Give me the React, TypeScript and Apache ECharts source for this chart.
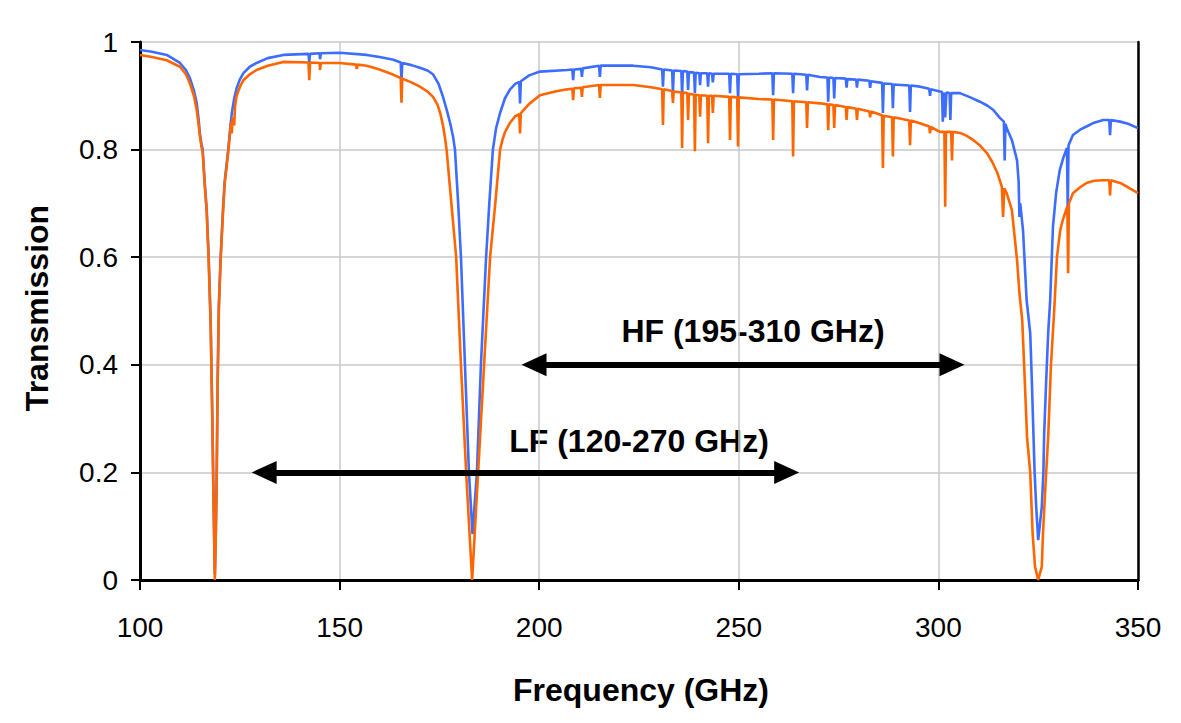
import React, { useEffect, useRef } from "react";
import * as echarts from "echarts";

// Frequency (GHz), transmission — dry/upper curve (blue)
const blueCurve: [number, number][] = [
  [100, 0.985], [103, 0.982], [106.7, 0.976], [110, 0.961], [111.5, 0.948], [112.5, 0.933], [113.5, 0.91],
  [114.2, 0.887], [114.7, 0.855], [115, 0.83], [115.4, 0.81],
  [115.7, 0.8], [116.2, 0.74], [116.7, 0.69], [117.2, 0.6], [117.7, 0.48], [118.1, 0.31], [118.35, 0.186],
  [118.55, 0.093], [118.75, 0.01], [119, 0.093], [119.2, 0.186], [119.45, 0.37], [119.75, 0.51], [120.2, 0.6],
  [120.8, 0.69], [121.2, 0.74], [122.1, 0.8], [122.6, 0.84], [123, 0.868], [123.6, 0.895], [124.2, 0.914],
  [125, 0.93], [125.9, 0.942], [127.5, 0.954], [129.2, 0.961], [132, 0.97],
  [135.9, 0.976], [142.2, 0.978], [142.4, 0.963], [142.6, 0.978], [145, 0.979], [145.1, 0.968], [145.3, 0.979],
  [150, 0.98], [156.8, 0.976], [160, 0.972], [163.5, 0.967], [165.3, 0.962], [165.5, 0.929], [165.7, 0.961],
  [168, 0.957], [170.1, 0.952], [172, 0.947], [173.4, 0.94], [174.8, 0.922], [175.9, 0.898], [176.9, 0.872],
  [177.7, 0.849], [178.4, 0.825], [178.9, 0.8], [179.7, 0.7], [180.4, 0.6], [181.4, 0.4], [182.4, 0.2],
  [183.3, 0.085], [184.4, 0.2], [185.4, 0.4], [186.7, 0.6], [187.5, 0.7], [188.4, 0.8], [189.2, 0.84],
  [190.2, 0.868], [191.4, 0.895], [192.7, 0.912], [194, 0.922],
  [195, 0.926], [195.2, 0.886], [195.4, 0.927], [197.5, 0.938], [200.2, 0.945], [207, 0.948], [208.3, 0.949],
  [208.5, 0.929], [208.7, 0.949], [210.5, 0.95], [210.7, 0.935], [210.9, 0.951], [215, 0.956], [215.2, 0.935],
  [215.4, 0.956], [223.5, 0.956], [228, 0.953], [230.8, 0.949], [231, 0.917], [231.2, 0.949], [233.3, 0.947],
  [233.5, 0.905], [233.7, 0.947], [235.6, 0.946], [235.8, 0.901], [236, 0.946], [237.1, 0.945], [237.3, 0.911],
  [237.5, 0.944], [238.8, 0.943], [239, 0.905], [239.2, 0.943], [240.1, 0.942], [240.3, 0.92], [240.5, 0.942],
  [242.1, 0.942], [242.3, 0.917], [242.5, 0.942], [243.3, 0.941], [243.5, 0.925], [243.7, 0.941], [247.6, 0.941],
  [247.8, 0.905], [248, 0.941], [249.6, 0.94], [249.8, 0.898], [250, 0.94], [255, 0.941], [258.4, 0.942],
  [258.6, 0.901], [258.8, 0.942], [263.4, 0.941], [263.6, 0.905], [263.8, 0.941], [266.9, 0.939], [267.1, 0.91],
  [267.3, 0.939], [270.3, 0.935], [272.2, 0.934], [272.4, 0.889], [272.6, 0.934], [273.7, 0.933], [273.9, 0.895],
  [274.1, 0.933], [276.8, 0.932], [277, 0.915], [277.2, 0.931], [279.4, 0.93], [279.6, 0.915], [279.8, 0.93],
  [282.7, 0.928], [282.9, 0.915], [283.1, 0.927], [285.9, 0.924], [286.1, 0.868], [286.3, 0.923], [288.4, 0.922],
  [288.6, 0.877], [288.8, 0.921], [292.7, 0.919], [292.9, 0.87], [293.1, 0.919], [295.4, 0.917], [297.7, 0.913],
  [297.9, 0.9], [298.1, 0.912], [300.4, 0.908], [300.9, 0.907], [301.1, 0.852], [301.4, 0.906], [301.7, 0.86],
  [302, 0.906], [302.8, 0.905], [303, 0.855], [303.2, 0.905], [305.4, 0.905], [308, 0.897], [310.4, 0.889],
  [312.2, 0.882], [313.7, 0.874], [315.4, 0.859], [316.4, 0.852], [316.6, 0.78], [316.8, 0.848], [317.1, 0.84],
  [318.4, 0.818], [319.7, 0.78], [320.1, 0.74], [320.3, 0.675], [320.5, 0.7], [321.2, 0.65], [322.1, 0.52],
  [323, 0.459], [323.4, 0.372], [323.8, 0.273], [324.1, 0.2], [324.5, 0.136], [325, 0.074], [325.9, 0.136],
  [326.3, 0.2], [326.5, 0.273], [327, 0.37], [327.5, 0.459], [328, 0.52], [328.7, 0.657], [329.5, 0.72],
  [330.4, 0.762], [331.3, 0.785], [332.2, 0.803], [332.4, 0.688], [332.6, 0.808], [333.7, 0.827], [335.5, 0.837],
  [337.1, 0.843], [339, 0.85], [341.3, 0.855], [342.8, 0.855], [343, 0.827], [343.2, 0.855], [345.5, 0.852],
  [347.5, 0.848], [350, 0.84],
];

// Frequency (GHz), transmission — wetter/lower curve (orange)
const orangeCurve: [number, number][] = [
  [100, 0.976], [103, 0.972], [106.7, 0.966], [110, 0.954], [111.5, 0.94], [112.5, 0.923], [113.5, 0.9],
  [114.2, 0.874], [114.7, 0.845], [115, 0.825], [115.4, 0.805],
  [115.7, 0.795], [116.2, 0.735], [116.7, 0.685], [117.2, 0.595], [117.7, 0.475], [118.1, 0.305], [118.35, 0.18],
  [118.55, 0.09], [118.75, 0], [119, 0.09], [119.2, 0.18], [119.45, 0.365], [119.75, 0.505], [120.2, 0.595],
  [120.8, 0.685], [121.2, 0.735], [122.1, 0.795], [122.8, 0.85], [123, 0.83], [123.2, 0.86], [123.6, 0.845],
  [123.8, 0.88], [124.2, 0.9], [125, 0.916], [125.9, 0.929], [127.5, 0.94], [129.2, 0.948], [132, 0.956],
  [135.9, 0.963], [142.2, 0.962], [142.4, 0.929],
  [142.6, 0.962], [145, 0.961], [145.1, 0.948], [145.3, 0.961], [150, 0.961], [154.1, 0.958], [154.3, 0.95],
  [154.5, 0.958], [156.8, 0.956], [160, 0.949], [163.5, 0.939], [165.3, 0.933], [165.5, 0.887], [165.7, 0.932],
  [168, 0.925], [170.1, 0.917], [172, 0.908], [173.4, 0.898], [174.5, 0.884], [175.2, 0.868], [175.9, 0.845],
  [176.4, 0.822], [176.8, 0.8], [178, 0.7], [179.2, 0.6], [180.4, 0.4],
  [181.7, 0.2], [183.2, 0], [184.7, 0.2], [186.2, 0.4], [187.7, 0.6], [189, 0.7], [190.2, 0.8], [190.8, 0.818],
  [191.4, 0.832], [192.7, 0.85], [194, 0.862],
  [195, 0.866], [195.2, 0.83], [195.4, 0.868], [197.5, 0.885], [200.2, 0.901], [204, 0.908], [207, 0.912],
  [208.3, 0.913], [208.5, 0.892], [208.7, 0.914], [210.5, 0.915], [210.7, 0.898], [210.9, 0.916], [215, 0.92],
  [215.2, 0.896], [215.4, 0.92], [223.5, 0.92], [228, 0.916], [230.8, 0.912], [231, 0.846], [231.2, 0.912],
  [233.3, 0.909], [233.5, 0.887], [233.7, 0.908], [235.6, 0.906], [235.8, 0.803], [236, 0.906], [237.1, 0.905],
  [237.3, 0.855], [237.5, 0.904], [238.8, 0.902], [239, 0.797], [239.2, 0.902], [240.1, 0.901], [240.3, 0.861],
  [240.5, 0.901], [242.1, 0.9], [242.3, 0.812], [242.5, 0.9], [243.3, 0.9], [243.5, 0.868], [243.7, 0.9],
  [247.6, 0.898], [247.8, 0.818], [248, 0.898], [249.6, 0.897], [249.8, 0.806], [250, 0.897], [255, 0.894],
  [258.4, 0.893], [258.6, 0.818], [258.8, 0.893], [263.4, 0.89], [263.6, 0.787], [263.8, 0.89], [266.9, 0.888],
  [267.1, 0.84], [267.3, 0.888], [270.3, 0.886], [272.2, 0.884], [272.4, 0.836], [272.6, 0.884], [273.7, 0.883],
  [273.9, 0.84], [274.1, 0.883], [276.8, 0.879], [277, 0.855], [277.2, 0.879], [279.4, 0.876], [279.6, 0.855],
  [279.8, 0.876], [282.7, 0.871], [282.9, 0.86], [283.1, 0.871], [285.9, 0.864], [286.1, 0.766], [286.3, 0.863],
  [288.4, 0.86], [288.6, 0.787], [288.8, 0.86], [292.7, 0.854], [292.9, 0.808], [293.1, 0.854], [295.4, 0.849],
  [297.7, 0.843], [297.9, 0.83], [298.1, 0.842], [300.4, 0.833], [301.5, 0.833], [301.7, 0.694], [301.9, 0.833],
  [303.2, 0.833], [303.4, 0.78], [303.6, 0.833], [305.4, 0.831], [307, 0.826], [308.7, 0.818], [310.5, 0.807],
  [312.2, 0.793], [313.5, 0.777], [314.7, 0.758],
  [315.9, 0.731], [316.2, 0.675], [316.5, 0.728], [317.1, 0.719], [318.4, 0.688], [319.7, 0.595], [320.3, 0.533],
  [321, 0.483], [321.5, 0.396], [322.2, 0.266], [323, 0.2], [323.6, 0.087], [324.2, 0.025], [325, 0],
  [325.9, 0.025], [326.2, 0.087], [327, 0.2], [327.5, 0.266], [328.2, 0.4], [328.6, 0.45], [329, 0.5],
  [329.7, 0.6], [330.5, 0.65], [331.2, 0.67], [332.3, 0.695], [332.5, 0.57], [332.7, 0.7], [333.7, 0.719],
  [335.5, 0.73], [337.1, 0.738], [339, 0.742], [341.3, 0.743], [342.8, 0.743], [343, 0.715], [343.2, 0.743],
  [345.5, 0.738], [347.5, 0.73], [350, 0.719],
];

// Band annotations: [start GHz, end GHz] of the arrow shafts, and the transmission level they sit on
const hfBand = [198.7, 303.4];
const hfLevel = 0.4;
const lfBand = [131.1, 262.0];
const lfLevel = 0.2;
const hfLabel = "HF (195-310 GHz)";
const lfLabel = "LF (120-270 GHz)";

const xRange = [100, 350];
const xStep = 50;
const yRange = [0, 1];
const yStep = 0.2;

const FONT = "'Liberation Sans', Arial, Helvetica, sans-serif";

export default function App() {
  const ref = useRef<HTMLDivElement>(null);

  useEffect(() => {
    if (!ref.current) return;
    const chart = echarts.init(ref.current, undefined, { renderer: "svg" });
    const frameAxis = {
      type: "value",
      axisLine: { show: true, lineStyle: { color: "#000", width: 2.5 } },
      axisTick: { show: false },
      axisLabel: { show: false },
      splitLine: { show: false },
    };
    chart.setOption({
      animation: false,
      backgroundColor: "#ffffff",
      grid: {
        left: 140,
        top: 42,
        right: 43,
        bottom: 143,
        show: false,
      },
      xAxis: [
        {
          type: "value",
          position: "bottom",
          min: xRange[0],
          max: xRange[1],
          interval: xStep,
          axisLine: { show: true, lineStyle: { color: "#000", width: 3 } },
          axisTick: { show: true, inside: false, length: 10, lineStyle: { color: "#000", width: 2 } },
          axisLabel: { color: "#000", fontSize: 28, fontFamily: FONT, margin: 33 },
          splitLine: { show: true, lineStyle: { color: "#c8c8c8", width: 1.5 } },
        },
        { ...frameAxis, position: "top", min: xRange[0], max: xRange[1], interval: xStep },
      ],
      yAxis: [
        {
          type: "value",
          position: "left",
          min: yRange[0],
          max: yRange[1],
          interval: yStep,
          axisLine: { show: true, lineStyle: { color: "#000", width: 3 } },
          axisTick: { show: true, inside: false, length: 9, lineStyle: { color: "#000", width: 2 } },
          axisLabel: {
            color: "#000",
            fontSize: 28,
            fontFamily: FONT,
            margin: 22,
            formatter: (v: number) => String(Math.round(v * 10) / 10),
          },
          splitLine: { show: true, lineStyle: { color: "#c8c8c8", width: 1.5 } },
        },
        { ...frameAxis, position: "right", min: yRange[0], max: yRange[1], interval: yStep },
      ],
      series: [
        {
          type: "line",
          data: blueCurve,
          showSymbol: false,
          symbol: "none",
          lineStyle: { color: "#3d6dff", width: 2.6 },
          z: 2,
        },
        {
          type: "line",
          data: orangeCurve,
          showSymbol: false,
          symbol: "none",
          lineStyle: { color: "#ff6600", width: 2.6 },
          z: 3,
        },
        {
          type: "line",
          data: [],
          z: 4,
          markLine: {
            silent: true,
            symbol: ["triangle", "triangle"],
            symbolSize: [23, 25],
            label: { show: false },
            lineStyle: { color: "#000", width: 6, type: "solid" },
            emphasis: { disabled: true },
            data: [
              [{ coord: [hfBand[0], hfLevel] }, { coord: [hfBand[1], hfLevel] }],
              [{ coord: [lfBand[0], lfLevel] }, { coord: [lfBand[1], lfLevel] }],
            ],
          },
        },
      ],
      graphic: [
        {
          type: "text",
          x: 753,
          y: 331,
          style: {
            text: hfLabel,
            fill: "#000",
            font: `bold 32px ${FONT}`,
            textAlign: "center",
            textVerticalAlign: "middle",
          },
        },
        {
          type: "text",
          x: 639,
          y: 441,
          style: {
            text: lfLabel,
            fill: "#000",
            font: `bold 32px ${FONT}`,
            textAlign: "center",
            textVerticalAlign: "middle",
          },
        },
        {
          type: "text",
          x: 37,
          y: 308,
          rotation: Math.PI / 2,
          style: {
            text: "Transmission",
            fill: "#000",
            font: `bold 32px ${FONT}`,
            textAlign: "center",
            textVerticalAlign: "middle",
          },
        },
        {
          type: "text",
          x: 641,
          y: 690,
          style: {
            text: "Frequency (GHz)",
            fill: "#000",
            font: `bold 32px ${FONT}`,
            textAlign: "center",
            textVerticalAlign: "middle",
          },
        },
      ],
    });
    return () => chart.dispose();
  }, []);

  return (
    <div
      ref={ref}
      style={{ position: "fixed", left: 0, top: 0, width: 1181, height: 723, background: "#fff" }}
    />
  );
}
